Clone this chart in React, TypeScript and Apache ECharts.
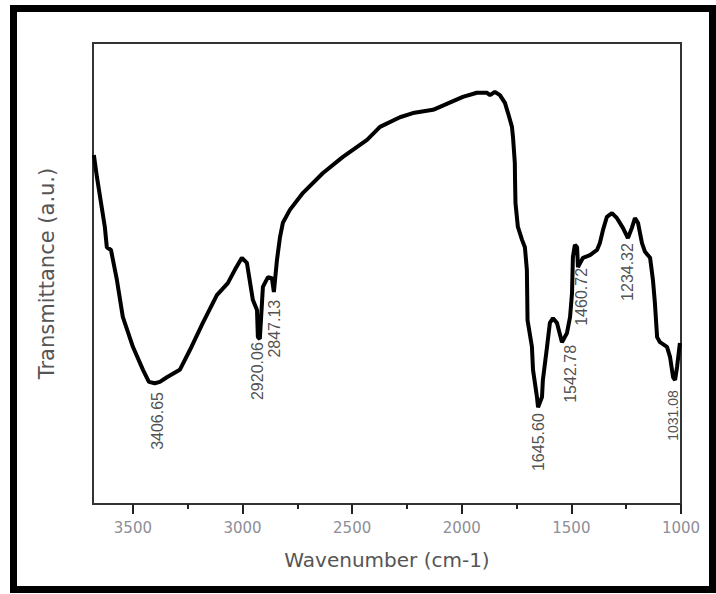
import React, { useEffect, useRef } from "react";
import * as echarts from "echarts";

// FT-IR spectrum
const wavenumber = [
  3678, 3664, 3628, 3619, 3600, 3573, 3546, 3500, 3454, 3427, 3400, 3377, 3345, 3286, 3240, 3181,
  3117, 3067, 3035, 3003, 2980, 2953, 2934, 2930, 2921, 2907, 2884, 2866, 2857, 2843, 2829, 2816,
  2784, 2724, 2633, 2542, 2432, 2373, 2282, 2223, 2131, 2068, 1995, 1931, 1885, 1871, 1849, 1826,
  1803, 1789, 1771, 1766, 1758, 1757, 1755, 1744, 1725, 1712, 1703, 1700, 1680, 1675, 1657, 1652,
  1634, 1630, 1611, 1598, 1584, 1566, 1543, 1520, 1506, 1497, 1493, 1484, 1474, 1470, 1447, 1415,
  1383, 1370, 1356, 1338, 1315, 1292, 1265, 1242, 1224, 1210, 1196, 1178, 1164, 1141, 1128, 1119,
  1109, 1096, 1064, 1050, 1036, 1027, 1018, 1005,
];
const transmittance = [
  75.7, 70.9, 60.1, 55.7, 55.1, 48.6, 40.6, 34.1, 29.1, 26.5, 26.2, 26.5, 27.5, 29.1, 33.4, 39.3,
  45.3, 47.9, 50.8, 53.4, 52.3, 44.3, 42.1, 36.2, 35.8, 47.1, 49.2, 49.0, 46.0, 52.9, 57.9, 61.0,
  63.8, 67.5, 71.8, 75.3, 79.0, 81.8, 83.9, 84.8, 85.5, 86.8, 88.3, 89.2, 89.2, 88.7, 89.4, 88.7,
  87.0, 84.8, 81.8, 79.4, 74.0, 70.3, 65.3, 60.1, 57.3, 55.7, 50.8, 39.9, 34.1, 29.1, 23.2, 21.0,
  23.2, 26.9, 34.1, 39.3, 40.3, 39.3, 35.1, 37.1, 40.6, 45.8, 53.6, 56.2, 55.7, 51.4, 53.4, 54.0,
  55.1, 56.6, 59.4, 62.3, 63.1, 62.0, 59.9, 57.7, 59.9, 62.0, 61.0, 56.6, 54.7, 53.4, 48.6, 43.6,
  36.2, 35.1, 34.1, 31.9, 27.5, 26.9, 29.7, 34.9,
];

// Peak annotations: text, and where the top of each vertical label sits
const peakLabels = ["3406.65", "2920.06", "2847.13", "1645.60", "1542.78", "1460.72", "1234.32", "1031.08"];
const peakLabelX = [3390, 2930, 2852, 1652, 1502, 1452, 1246, 1036];
const peakLabelY = [24.3, 35.1, 44.3, 19.7, 34.5, 51.2, 56.6, 24.7];

const majorTicks = [1000, 1500, 2000, 2500, 3000, 3500];
const minorTicks = [1250, 1750, 2250, 2750, 3250];
const xMin = 1000;
const xMax = 3682;

export default function App() {
  const ref = useRef<HTMLDivElement>(null);
  useEffect(() => {
    if (!ref.current) return;
    const chart = echarts.init(ref.current, null, { renderer: "svg" });
    const lineData = wavenumber.map((w, i) => [w, transmittance[i]]);
    const labelData = peakLabels.map((t, i) => ({
      name: t,
      value: [peakLabelX[i], peakLabelY[i]],
      label: i === peakLabels.length - 1 ? { fontSize: 14 } : undefined,
    }));
    chart.setOption({
      animation: false,
      backgroundColor: "#ffffff",
      grid: {
        left: 93,
        right: 35,
        top: 43,
        bottom: 90,
        show: true,
        borderColor: "#333",
        borderWidth: 2,
        containLabel: false,
      },
      graphic: [
        {
          type: "rect",
          shape: { x: 13.5, y: 8.5, width: 699, height: 581 },
          style: { fill: "none", stroke: "#000", lineWidth: 7 },
          silent: true,
        },
      ],
      xAxis: [
        {
          type: "value",
          min: xMin,
          max: xMax,
          inverse: true,
          position: "bottom",
          name: "Wavenumber (cm-1)",
          nameLocation: "middle",
          nameGap: 46,
          nameTextStyle: { fontSize: 20, fontFamily: "DejaVu Sans", color: "#555" },
          axisLine: { show: true, onZero: false, lineStyle: { color: "#333", width: 2 } },
          axisTick: { show: true, customValues: majorTicks, length: 10, lineStyle: { color: "#222", width: 2 } },
          axisLabel: {
            customValues: majorTicks,
            formatter: (v: number) => String(v),
            margin: 16,
            fontSize: 15,
            fontFamily: "DejaVu Sans",
            color: "#8e8e98",
          },
          splitLine: { show: false },
        },
        {
          type: "value",
          min: xMin,
          max: xMax,
          inverse: true,
          position: "bottom",
          axisLine: { show: false, onZero: false },
          axisTick: { show: true, customValues: minorTicks, length: 5, lineStyle: { color: "#222", width: 2 } },
          axisLabel: { show: false },
          splitLine: { show: false },
        },
      ],
      yAxis: {
        type: "value",
        min: 0,
        max: 100,
        name: "Transmittance (a.u.)",
        nameLocation: "middle",
        nameGap: 36,
        nameTextStyle: { fontSize: 21, fontFamily: "DejaVu Sans", color: "#555" },
        axisLine: { show: false },
        axisTick: { show: false },
        axisLabel: { show: false },
        splitLine: { show: false },
      },
      series: [
        {
          type: "line",
          data: lineData,
          showSymbol: false,
          symbol: "none",
          lineStyle: { color: "#000", width: 4 },
          clip: true,
          silent: true,
        },
        {
          type: "scatter",
          data: labelData,
          symbolSize: 1,
          itemStyle: { color: "rgba(0,0,0,0)" },
          silent: true,
          label: {
            show: true,
            formatter: "{b}",
            position: "inside",
            rotate: 90,
            align: "right",
            verticalAlign: "middle",
            fontSize: 16,
            fontFamily: "Liberation Sans",
            color: "#222",
          },
        },
      ],
    });
    return () => chart.dispose();
  }, []);
  return (
    <div
      ref={ref}
      style={{ position: "absolute", left: 0, top: 0, width: 716, height: 594, background: "#fff" }}
    />
  );
}
